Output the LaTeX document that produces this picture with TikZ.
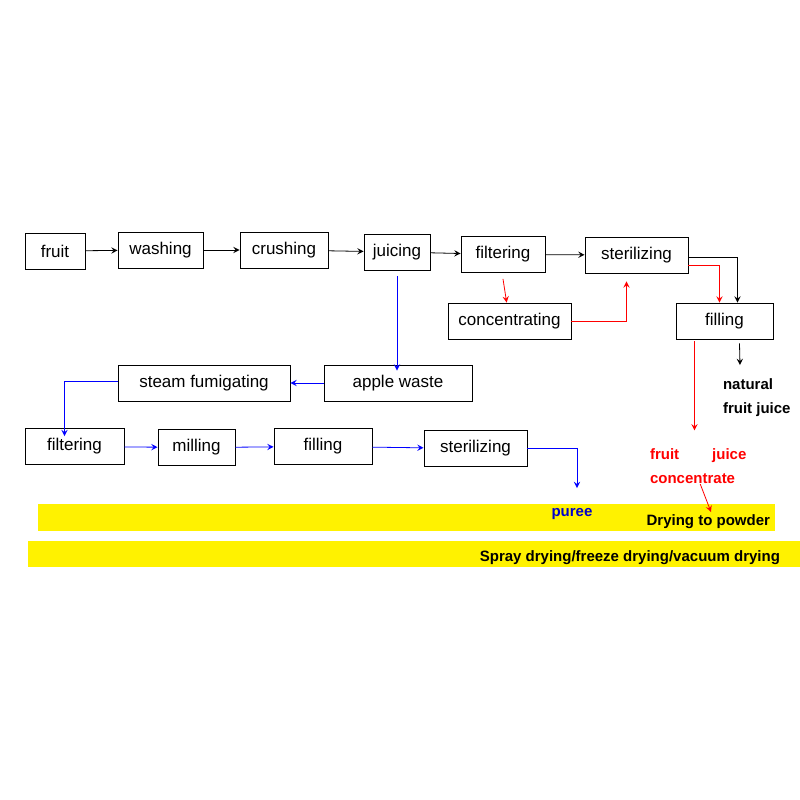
\documentclass[tikz,border=0pt]{standalone}
\usepackage{fontspec}
\setmainfont{Liberation Sans}
\usetikzlibrary{arrows,positioning}
\tikzset{
    stage/.style={
           rectangle,
           draw=black,
           minimum height=18pt,
           inner sep=2pt,
           font=\fontsize{8.5}{10}\selectfont,
           text centered,
           },
    flow/.style={->,>=stealth,thin},
    note/.style={font=\fontsize{7.5}{12}\selectfont\bfseries,align=left},
}
\begin{document}
\begin{tikzpicture}[x=0.5pt,y=-0.5pt]
 \useasboundingbox (0,0) rectangle (800,800);

 % yellow bands
 \fill[yellow] (38,504) rectangle (775,531);
 \fill[yellow] (28,541) rectangle (800,567);

 % main line
 \node[stage, minimum width=30pt] (FRUIT) at (55,251) {fruit};
 \node[stage, minimum width=42.5pt] (WASH) at (160.5,250) {washing};
 \node[stage, minimum width=44pt] (CRUSH) at (284,250) {crushing};
 \node[stage, minimum width=33pt] (JUICE) at (397,252) {juicing};
 \node[stage, minimum width=42pt] (FILT) at (503,254.5) {filtering};
 \node[stage, minimum width=51.5pt] (STER) at (636.5,255) {sterilizing};
 \node[stage, minimum width=61.5pt] (CONC) at (509.5,321) {concentrating};
 \node[stage, minimum width=48.5pt] (FILL) at (724.5,321) {filling};

 % waste line
 \node[stage, minimum width=74pt] (WASTE) at (398,383) {apple waste};
 \node[stage, minimum width=86pt] (STEAM) at (204,383) {steam fumigating};
 \node[stage, minimum width=49.5pt] (FILT2) at (74.5,446.5) {filtering};
 \node[stage, minimum width=38.5pt] (MILL) at (196.5,447.5) {milling};
 \node[stage, minimum width=49pt] (FILL2) at (323,446.5) {filling};
 \node[stage, minimum width=51.5pt] (STER2) at (475.5,448.5) {sterilizing};

 % products
 \node[note, anchor=west] (NAT) at (716,398) {natural\\fruit juice};
 \node[note, anchor=west, text=red] (CONCJ) at (643,466) {fruit\hspace{2.2em}juice\\concentrate};
 \node[note, text=blue!80!black] (PUREE) at (572,514) {puree};
 \node[note, anchor=east] (POWDER) at (777,522) {Drying to powder};
 \node[note, anchor=east] (SPRAY) at (787,558) {Spray drying/freeze drying/vacuum drying};

 \coordinate (PDOWN) at (711,512);
 \coordinate (NDOWN) at (740,365);
 \coordinate (PUDOWN) at (577,488);

 \draw[flow] (FRUIT) -- (WASH);
 \draw[flow] (WASH) -- (CRUSH);
 \draw[flow] (CRUSH) -- (JUICE);
 \draw[flow] (JUICE) -- (FILT);
 \draw[flow] (FILT) -- (STER);
 \draw[flow] (STER.east |- 0,257) -| ([xshift=6.5pt]FILL.north);
 \draw[flow, red] (STER.east |- 0,265) -| ([xshift=-2.5pt]FILL.north);
 \draw[flow, red] ([yshift=-3pt]FILT.south) -- (CONC);
 \draw[flow, red] (CONC.east) -| ([xshift=-5pt,yshift=-4pt]STER.south);
 \draw[flow] ([xshift=7.5pt,yshift=-2pt]FILL.south) -- (NDOWN);
 \draw[flow, red] ([xshift=-15pt,yshift=-1pt]FILL.south) -- ++(0,89);
 \draw[flow, red] ([xshift=1pt]CONCJ.south |- 0,484) -- (PDOWN);

 \draw[flow, blue] ([yshift=-3pt]JUICE.south) -- ([yshift=-3pt]JUICE.south |- WASTE.north);
 \draw[flow, blue] (WASTE) -- (STEAM);
 \draw[flow, blue] (STEAM.west |- 0,381) -| ([xshift=-5pt,yshift=-4pt]FILT2.north);
 \draw[flow, blue] (FILT2) -- (MILL);
 \draw[flow, blue] (MILL) -- (FILL2);
 \draw[flow, blue] (FILL2) -- (STER2);
 \draw[flow, blue] (STER2.east) -| (PUDOWN);
\end{tikzpicture}
\end{document}
